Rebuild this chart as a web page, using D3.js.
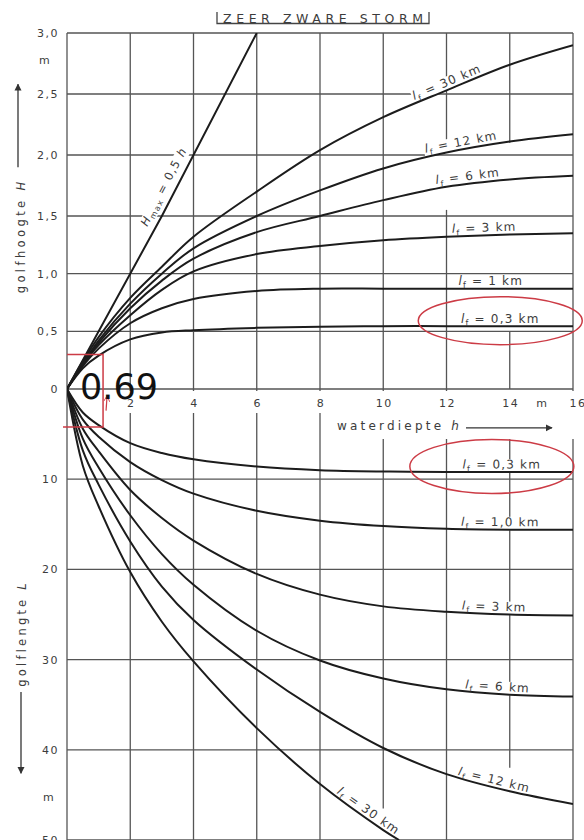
<!DOCTYPE html>
<html><head><meta charset="utf-8">
<script src="https://cdn.jsdelivr.net/npm/d3@7"></script>
<style>
html,body{margin:0;padding:0;background:#fff;}
svg{display:block;}
text{font-family:"DejaVu Sans","Liberation Sans",sans-serif;fill:#3c3c3c;}
</style></head><body>
<svg id="c" width="584" height="840"></svg>
<script>
// ---------- data ----------
const titleText = "ZEER ZWARE STORM";
const depthTicks = [2,4,6,8,10,12,14,16];
const depthTickLabels = ["2","4","6","8","10","12","14","16"];
const heightTicks = [0.5,1.0,1.5,2.0,2.5,3.0];
const heightTickLabels = ["0,5","1,0","1,5","2,0","2,5","3,0"];
const lengthTicks = [10,20,30,40,50];
const lengthTickLabels = ["10","20","30","40","50"];

// upper panel: wave height H (m) vs water depth h (m)
const depthSamples = [0,0.5,1,2,3,4,6,8,10,12,14,16];
const heightFetch03 = [0,0.18,0.29,0.43,0.49,0.51,0.53,0.54,0.545,0.545,0.545,0.545];
const heightFetch1  = [0,0.20,0.35,0.57,0.70,0.78,0.85,0.87,0.87,0.87,0.87,0.87];
const heightFetch3  = [0,0.21,0.38,0.64,0.86,1.02,1.17,1.24,1.29,1.32,1.34,1.35];
const heightFetch6  = [0,0.215,0.40,0.70,0.94,1.13,1.36,1.50,1.63,1.74,1.80,1.83];
const heightFetch12 = [0,0.22,0.42,0.74,1.00,1.22,1.50,1.71,1.89,2.02,2.11,2.17];
const heightFetch30 = [0,0.24,0.45,0.79,1.06,1.32,1.70,2.04,2.31,2.53,2.74,2.90];
const hmaxDepths = [0,3,6];
const hmaxHeights = [0,1.5,3.0];

// lower panel: wave length L (m) vs water depth h (m)
const lengthFetch03 = [0,2.6,4.0,6.0,7.1,7.8,8.6,9.0,9.15,9.2,9.2,9.2];
const lengthFetch1  = [0,3.4,5.3,8.1,10.1,11.6,13.5,14.6,15.2,15.5,15.6,15.6];
const lengthFetch3  = [0,4.4,6.9,11.2,14.3,16.8,20.5,22.8,24.1,24.7,25.0,25.1];
const lengthFetch6  = [0,5.5,8.7,14.0,18.3,21.7,26.8,30.1,32.1,33.3,33.9,34.1];
const lengthFetch12 = [0,6.8,10.6,16.9,21.9,25.6,31.1,35.8,39.8,42.7,44.6,46.0];
const depthSamples30 = [0,0.5,1,2,3,4,6,8,10,10.5];
const lengthFetch30 = [0,8.5,13.0,20.3,25.8,30.2,37.6,43.8,48.9,50.0];

const upperFetchLabels = ["0,3 km","1 km","3 km","6 km","12 km","30 km"];
const upperLabelDepth = [13.7,13.4,13.2,12.7,12.5,12.1];
const lowerFetchLabels = ["0,3 km","1,0 km","3 km","6 km","12 km","30 km"];
const lowerLabelDepth = [13.75,13.7,13.5,13.6,13.45,9.4];

// partial grid lines (data units)
const upperGapDepths = [12,14];
const upperGapFrom = [1.55,0.5];
const upperGapTo = [2.05,2.1];
const lowerGridStart = [0,0,0,0,0,0,5.5,0];
const lowerGridEnd = [50,50,50,50,46.5,50,42,50];

// annotation (red marks)
const markDepth = 1.14, markHeight = 0.3, markLength = 4.2;
const markText = "0.69";

// ---------- scales ----------
const svg = d3.select("#c");
const x = d3.scaleLinear().domain([0,16]).range([67,573]);
const yH = d3.scaleLinear().domain([0,1.5,3]).range([389,216,33]);
const yL = d3.scaleLinear().domain([0,50]).range([389,840]);

const defs = svg.append("defs");
defs.append("clipPath").attr("id","plot").append("rect")
  .attr("x",x(0)).attr("y",yH(3)).attr("width",x(16)-x(0)).attr("height",yL(50)-yH(3));
defs.append("clipPath").attr("id","titleclip").append("rect")
  .attr("x",0).attr("y",14).attr("width",584).attr("height",30);
defs.append("marker").attr("id","arr").attr("viewBox","0 0 10 10").attr("refX",9).attr("refY",5)
  .attr("markerWidth",7).attr("markerHeight",10).attr("markerUnits","userSpaceOnUse").attr("orient","auto")
  .append("path").attr("d","M0,0 L10,5 L0,10 Z").attr("fill","#333");
defs.append("marker").attr("id","rarr").attr("viewBox","0 0 10 10").attr("refX",9).attr("refY",5)
  .attr("markerWidth",6).attr("markerHeight",6).attr("markerUnits","userSpaceOnUse").attr("orient","auto")
  .append("path").attr("d","M0,0 L10,5 L0,10").attr("fill","none").attr("stroke","#cc3b45").attr("stroke-width",1.5);

const gGrid = svg.append("g").attr("stroke","#555").attr("stroke-width",1.3).attr("fill","none");
const gKnock = svg.append("g").attr("fill","#fff");
const gCurves = svg.append("g").attr("clip-path","url(#plot)").attr("fill","none")
  .attr("stroke","#1c1c1c").attr("stroke-width",2).attr("stroke-linejoin","round");
const gText = svg.append("g");
const gAnno = svg.append("g");

// ---------- grid ----------
heightTicks.forEach(v => gGrid.append("line").attr("x1",x(0)).attr("x2",x(16)).attr("y1",yH(v)).attr("y2",yH(v)));
lengthTicks.forEach(v => gGrid.append("line").attr("x1",x(0)).attr("x2",x(16)).attr("y1",yL(v)).attr("y2",yL(v)));
gGrid.append("line").attr("x1",x(0)).attr("x2",x(16)).attr("y1",yH(0)).attr("y2",yH(0));
gGrid.append("line").attr("x1",x(0)).attr("x2",x(0)).attr("y1",yH(3)).attr("y2",yL(50));
depthTicks.forEach((d,i) => {
  const gi = upperGapDepths.indexOf(d);
  if (gi < 0) {
    gGrid.append("line").attr("x1",x(d)).attr("x2",x(d)).attr("y1",yH(0)).attr("y2",yH(3));
  } else {
    gGrid.append("line").attr("x1",x(d)).attr("x2",x(d)).attr("y1",yH(0)).attr("y2",yH(upperGapFrom[gi]));
    gGrid.append("line").attr("x1",x(d)).attr("x2",x(d)).attr("y1",yH(upperGapTo[gi])).attr("y2",yH(3));
  }
  gGrid.append("line").attr("x1",x(d)).attr("x2",x(d)).attr("y1",yL(lowerGridStart[i])).attr("y2",yL(lowerGridEnd[i]));
});

// ---------- curves ----------
const smooth = d3.curveCatmullRom.alpha(0.5);
const lineH = d3.line().x(d=>x(d[0])).y(d=>yH(d[1])).curve(smooth);
const lineL = d3.line().x(d=>x(d[0])).y(d=>yL(d[1])).curve(smooth);
const zip = (a,b) => a.map((v,i)=>[v,b[i]]);
const upperSeries = [heightFetch03,heightFetch1,heightFetch3,heightFetch6,heightFetch12,heightFetch30];
const lowerSeries = [lengthFetch03,lengthFetch1,lengthFetch3,lengthFetch6,lengthFetch12];
const upperPaths = upperSeries.map(s => gCurves.append("path").attr("d", lineH(zip(depthSamples,s))).node());
const lowerPaths = lowerSeries.map(s => gCurves.append("path").attr("d", lineL(zip(depthSamples,s))).node());
lowerPaths.push(gCurves.append("path").attr("d", lineL(zip(depthSamples30,lengthFetch30))).node());
const hmaxPath = gCurves.append("path").attr("d", d3.line().x(d=>x(d[0])).y(d=>yH(d[1]))(zip(hmaxDepths,hmaxHeights))).node();

// ---------- labels on curves ----------
function pointAtX(node, tx){
  const total = node.getTotalLength();
  let lo=0, hi=total;
  for(let i=0;i<40;i++){ const m=(lo+hi)/2; if(node.getPointAtLength(m).x<tx) lo=m; else hi=m; }
  return {s:(lo+hi)/2,total};
}
function addLabel(node, h, off, build, fs){
  const r = pointAtX(node, x(h));
  const p = node.getPointAtLength(r.s);
  const p0 = node.getPointAtLength(Math.max(0,r.s-5));
  const p1 = node.getPointAtLength(Math.min(r.total,r.s+5));
  const ang = Math.atan2(p1.y-p0.y, p1.x-p0.x);
  const bx = p.x + off*Math.sin(ang), by = p.y - off*Math.cos(ang);
  const tr = `translate(${bx},${by}) rotate(${ang*180/Math.PI})`;
  const t = gText.append("g").attr("transform",tr).append("text")
    .attr("text-anchor","middle").attr("font-size",fs||12).attr("letter-spacing",1.2);
  build(t);
  const bb = t.node().getBBox();
  gKnock.append("rect").attr("transform",tr).attr("x",bb.x-1).attr("y",bb.y+1.5)
    .attr("width",bb.width+2).attr("height",bb.height-2.5);
  const cx = bb.x+bb.width/2, cy = bb.y+bb.height/2;
  return [bx + cx*Math.cos(ang) - cy*Math.sin(ang), by + cx*Math.sin(ang) + cy*Math.cos(ang)];
}
function fetchLabel(txt){
  return t => {
    t.append("tspan").attr("font-style","italic").text("l");
    t.append("tspan").attr("font-size",8).attr("dy",3).text("f");
    t.append("tspan").attr("dy",-3).text(" = " + txt);
  };
}
const upperCenters = upperPaths.map((n,i) => addLabel(n, upperLabelDepth[i], 3.5, fetchLabel(upperFetchLabels[i])));
const lowerCenters = lowerPaths.map((n,i) => addLabel(n, lowerLabelDepth[i], 3.5, fetchLabel(lowerFetchLabels[i])));
addLabel(hmaxPath, 3.39, 8, t => {
  t.append("tspan").attr("font-style","italic").text("H");
  t.append("tspan").attr("font-size",8).attr("dy",3).text("max");
  t.append("tspan").attr("dy",-3).text(" = 0,5 ");
  t.append("tspan").attr("font-style","italic").text("h");
}, 11.5);

// ---------- axes text ----------
const tick = (sel) => sel.attr("font-size",11).attr("letter-spacing",1.5);
heightTicks.forEach((v,i) => tick(gText.append("text")).attr("x",59).attr("y",yH(v)+4).attr("text-anchor","end").text(heightTickLabels[i]));
tick(gText.append("text")).attr("x",59).attr("y",yH(0)+4).attr("text-anchor","end").text("0");
lengthTicks.forEach((v,i) => tick(gText.append("text")).attr("x",59).attr("y",yL(v)+4).attr("text-anchor","end").text(lengthTickLabels[i]));
tick(gText.append("text")).attr("x",45).attr("y",yH(2.78)+4).attr("text-anchor","middle").text("m");
tick(gText.append("text")).attr("x",49).attr("y",yL(45.2)+4).attr("text-anchor","middle").text("m");

depthTicks.forEach((d,i) => {
  const t = tick(gText.append("text")).attr("x",x(d)+ (d===16?5:1)).attr("y",yH(0)+18).attr("text-anchor","middle").text(depthTickLabels[i]);
  const bb = t.node().getBBox();
  gKnock.append("rect").attr("x",bb.x-3).attr("y",yH(0)+2).attr("width",bb.width+6).attr("height",22);
});
tick(gText.append("text")).attr("x",(x(14)+x(16))/2+1).attr("y",yH(0)+18).attr("text-anchor","middle").text("m");

// waterdiepte h ->
const wd = gText.append("text").attr("x",337).attr("y",yL(4.6)).attr("font-size",12).attr("letter-spacing",3.2);
wd.append("tspan").text("waterdiepte ");
wd.append("tspan").attr("font-style","italic").text("h");
gKnock.append("rect").attr("x",332).attr("y",yH(0)+22).attr("width",250).attr("height",28);
gText.append("line").attr("x1",466).attr("x2",552).attr("y1",yL(4.3)).attr("y2",yL(4.3))
  .attr("stroke","#333").attr("stroke-width",1.3).attr("marker-end","url(#arr)");

// golfhoogte H (rotated)
const gh = gText.append("text").attr("transform",`translate(25,${yH(0.83)}) rotate(-90)`)
  .attr("font-size",11.5).attr("letter-spacing",3.4);
gh.append("tspan").text("golfhoogte ");
gh.append("tspan").attr("font-style","italic").text("H");
gText.append("line").attr("x1",18).attr("x2",18).attr("y1",yH(1.9)).attr("y2",yH(2.58))
  .attr("stroke","#333").attr("stroke-width",1.3).attr("marker-end","url(#arr)");

// golflengte L (rotated)
const gl = gText.append("text").attr("transform",`translate(26,${yL(33)}) rotate(-90)`)
  .attr("font-size",11.5).attr("letter-spacing",3.2);
gl.append("tspan").text("golflengte ");
gl.append("tspan").attr("font-style","italic").text("L");
gText.append("line").attr("x1",21).attr("x2",21).attr("y1",yL(33.6)).attr("y2",yL(42.6))
  .attr("stroke","#333").attr("stroke-width",1.3).attr("marker-end","url(#arr)");

// title box
const gt = gText.append("g");
gt.append("text").attr("clip-path","url(#titleclip)").attr("x",223).attr("y",22.5)
  .attr("font-size",12.5).attr("textLength",200).attr("lengthAdjust","spacing").text(titleText);
gt.append("path").attr("d","M217,12 V23.5 H429 V12").attr("fill","none").attr("stroke","#444").attr("stroke-width",1.3);

// ---------- red annotation ----------
const red = "#cc3b45";
gAnno.append("ellipse").attr("cx",upperCenters[0][0]).attr("cy",upperCenters[0][1]+1).attr("rx",82).attr("ry",24)
  .attr("fill","none").attr("stroke",red).attr("stroke-width",1.5);
gAnno.append("ellipse").attr("cx",lowerCenters[0][0]-10).attr("cy",lowerCenters[0][1]+1).attr("rx",82).attr("ry",27)
  .attr("fill","none").attr("stroke",red).attr("stroke-width",1.5);
gAnno.append("path").attr("d",`M${x(0)},${yH(markHeight)} H${x(markDepth)} V${yL(markLength)} H${x(0)-4}`)
  .attr("fill","none").attr("stroke",red).attr("stroke-width",1.5);
gAnno.append("line").attr("x1",x(markDepth)+3).attr("x2",x(markDepth)+4).attr("y1",yL(2.4)).attr("y2",yL(0.8))
  .attr("stroke",red).attr("stroke-width",1.2).attr("marker-end","url(#rarr)");
gAnno.append("text").attr("x",x(0)+13).attr("y",yH(0)+10).attr("font-family","'Open Sans',sans-serif")
  .attr("font-size",35).style("fill","#111").text(markText);
</script>
</body></html>
